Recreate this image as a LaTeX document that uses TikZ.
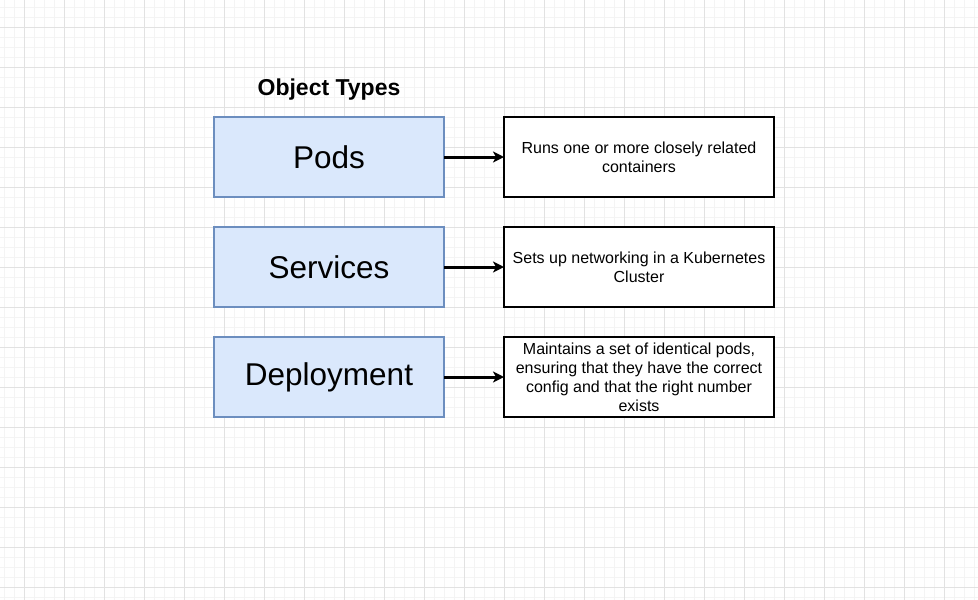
\documentclass[tikz,border=0pt]{standalone}
\usepackage{fontspec}
\setmainfont{Liberation Sans}
\usepackage{tikz}
\usetikzlibrary{positioning,arrows.meta}

\definecolor{typefill}{HTML}{DAE8FC}
\definecolor{typeline}{HTML}{6C8EBF}
\definecolor{minorgrid}{HTML}{F4F4F4}
\definecolor{majorgrid}{HTML}{E2E2E2}

\tikzset{
  typebox/.style={draw=typeline, fill=typefill, line width=2pt, minimum width=230pt,
    minimum height=80pt, outer sep=0pt, font=\fontsize{31.5}{36}\selectfont},
  descbox/.style={draw=black, fill=white, line width=2pt, minimum width=270pt,
    minimum height=80pt, outer sep=0pt, align=center, inner sep=0pt,
    font=\fontsize{16}{19}\selectfont},
  link/.style={-{Stealth[length=11pt, width=11pt, inset=3pt]}, line width=3pt}
}

\begin{document}
\begin{tikzpicture}[x=1pt, y=-1pt, node distance=60pt]
\useasboundingbox (0,0) rectangle (978,600);
\fill[white] (0,0) rectangle (978,600);
% grid
\foreach \gx in {4,14,...,974} \draw[minorgrid, line width=0.8pt] (\gx,0) -- (\gx,600);
\foreach \gy in {7,17,...,597} \draw[minorgrid, line width=0.8pt] (0,\gy) -- (978,\gy);
\foreach \gx in {24,64,...,974} \draw[majorgrid, line width=0.8pt] (\gx,0) -- (\gx,600);
\foreach \gy in {27,67,...,587} \draw[majorgrid, line width=0.8pt] (0,\gy) -- (978,\gy);

\node (title) at (329,89.5) {\fontsize{23}{27}\selectfont\bfseries Object Types};

\node[typebox] (pods) at (329,157) {Pods};
\node[typebox] (services) at (329,267) {Services};
\node[typebox] (deploy) at (329,377) {Deployment};

\node[descbox, right=of pods] (podsdesc) {Runs one or more closely related\\containers};
\node[descbox, right=of services] (servicesdesc) {Sets up networking in a Kubernetes\\Cluster};
\node[descbox, right=of deploy] (deploydesc) {Maintains a set of identical pods,\\ensuring that they have the correct\\config and that the right number\\exists};

\draw[link] (pods) -- (podsdesc);
\draw[link] (services) -- (servicesdesc);
\draw[link] (deploy) -- (deploydesc);
\end{tikzpicture}
\end{document}
